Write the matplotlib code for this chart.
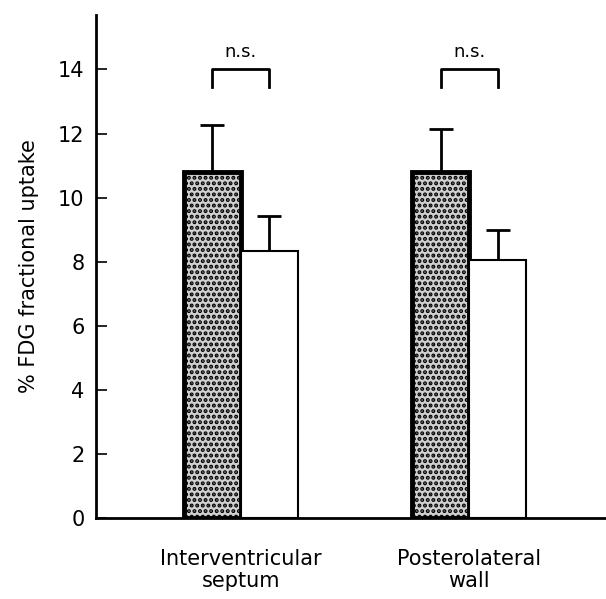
import matplotlib.pyplot as plt
import numpy as np

regions = ["Interventricular\nseptum", "Posterolateral\nwall"]
dark_means = [10.8, 10.8]
dark_err = [1.48, 1.35]
white_means = [8.35, 8.05]
white_err = [1.08, 0.95]
sig_labels = ["n.s.", "n.s."]
yticks = [0, 2, 4, 6, 8, 10, 12, 14]

plt.rcParams['font.family'] = ['DejaVu Sans']
plt.rcParams['hatch.linewidth'] = 2.0
plt.rcParams['hatch.color'] = 'black'

fig = plt.figure(figsize=(6.06, 5.99), dpi=100)
ax = fig.add_axes([0.158, 0.135, 0.842, 0.84])

x = np.arange(len(regions))
w = 0.25

ax.bar(x - w / 2, dark_means, w, facecolor='#d0d0d0', edgecolor='black',
       linewidth=3.5, hatch='...', zorder=2)
ax.bar(x + w / 2, white_means, w, facecolor='white', edgecolor='black',
       linewidth=1.5, zorder=2)

ax.errorbar(x - w / 2, dark_means, yerr=[np.zeros(len(x)), dark_err],
            fmt='none', ecolor='black', elinewidth=2, capsize=8.5,
            capthick=2, zorder=1)
ax.errorbar(x + w / 2, white_means, yerr=[np.zeros(len(x)), white_err],
            fmt='none', ecolor='black', elinewidth=2, capsize=8.5,
            capthick=2, zorder=1)

for xi, lab in zip(x, sig_labels):
    bx = [xi - w / 2, xi - w / 2, xi + w / 2, xi + w / 2]
    by = [13.45, 14.0, 14.0, 13.45]
    ax.plot(bx, by, color='black', linewidth=2)
    ax.text(xi, 14.55, lab, ha='center', va='center', fontsize=13)

ax.set_xlim(-0.636, 1.60)
ax.set_ylim(0, 15.7)
ax.set_yticks(yticks)
ax.set_yticklabels([str(t) for t in yticks], fontsize=15)
ax.tick_params(axis='y', direction='in', length=8, width=1.2, pad=8)
ax.set_xticks(x)
ax.set_xticklabels(regions, fontsize=15, linespacing=1.15)
ax.tick_params(axis='x', length=0, pad=22)

for s in ['top', 'right']:
    ax.spines[s].set_visible(False)
ax.spines['left'].set_linewidth(2)
ax.spines['bottom'].set_linewidth(2)

ax.set_ylabel('% FDG fractional uptake', fontsize=15, labelpad=14)

fig.savefig('out.png', dpi=100)
